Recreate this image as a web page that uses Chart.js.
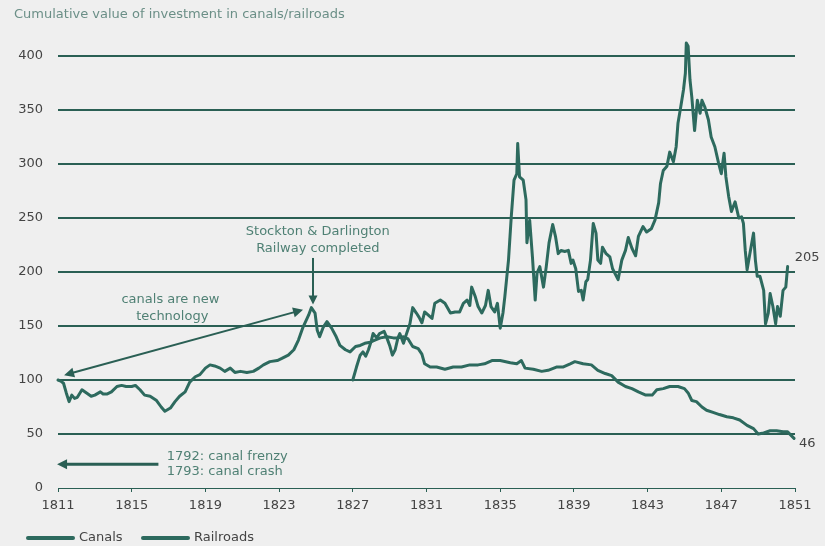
<!DOCTYPE html>
<html>
<head>
<meta charset="utf-8">
<script src="https://cdn.jsdelivr.net/npm/chart.js@4/dist/chart.umd.min.js"></script>
<style>
  html,body{margin:0;padding:0;background:#efefef;}
  canvas{display:block;}
</style>
</head>
<body>
<canvas id="chart" width="825" height="546"></canvas>
<script>
const TEAL = '#2d6a5e', GRID = '#2a5f54', NOTE = '#4f8074', TICK = '#444';
const FONT = '"DejaVu Sans", sans-serif';

const canalYears = [1811.0,1811.15,1811.3,1811.45,1811.6,1811.75,1811.9,1812.05,1812.3,1812.55,1812.8,1813.0,1813.3,1813.45,1813.65,1813.9,
  1814.2,1814.45,1814.7,1815.0,1815.2,1815.45,1815.7,1816.0,1816.35,1816.6,1816.8,1817.1,1817.35,1817.6,1817.9,1818.15,1818.45,1818.7,
  1819.0,1819.25,1819.5,1819.8,1820.05,1820.35,1820.6,1820.9,1821.25,1821.6,1821.9,1822.15,1822.5,1822.9,1823.15,1823.5,1823.8,1824.05,
  1824.3,1824.6,1824.75,1824.95,1825.07,1825.2,1825.4,1825.6,1825.85,1826.1,1826.3,1826.6,1826.85,1827.15,1827.4,1827.65,1827.95,1828.2,
  1828.5,1828.85,1829.2,1829.45,1829.75,1830.0,1830.25,1830.55,1830.75,1830.9,1831.2,1831.55,1832.0,1832.45,1832.9,1833.35,1833.8,1834.15,
  1834.55,1835.0,1835.55,1835.9,1836.15,1836.35,1836.8,1837.25,1837.6,1838.05,1838.4,1838.8,1839.05,1839.5,1839.95,1840.3,1840.7,1841.05,
  1841.4,1841.8,1842.15,1842.5,1842.9,1843.25,1843.5,1843.85,1844.2,1844.65,1845.0,1845.2,1845.4,1845.65,1845.95,1846.2,1846.55,1846.9,
  1847.3,1847.65,1848.0,1848.4,1848.75,1849.0,1849.3,1849.65,1850.0,1850.35,1850.6,1850.95];
const canalValues = [100,99,97,88,80,86,83,84,91,88,85,86,89,87,87,89,
  94,95,94,94,95,91,86,85,81,75,71,74,80,85,89,98,103,105,
  111,114,113,111,108,111,107,108,107,108,111,114,117,118,120,123,128,137,
  149,160,167,162,146,140,149,154,148,140,132,128,126,131,132,134,135,137,
  139,140,139,139,140,138,131,129,124,115,112,112,110,112,112,114,114,115,
  118,118,116,115,118,111,110,108,109,112,112,115,117,115,114,109,106,104,
  98,94,92,89,86,86,91,92,94,94,92,88,81,80,75,72,70,68,
  66,65,63,58,55,50,51,53,53,52,52,46];

const railYears = [1827.0,1827.2,1827.4,1827.55,1827.7,1827.85,1828.0,1828.1,1828.3,1828.45,1828.7,1828.85,1829.0,1829.15,1829.3,1829.45,
  1829.55,1829.75,1829.9,1830.1,1830.25,1830.45,1830.6,1830.75,1830.9,1831.1,1831.3,1831.45,1831.75,1832.0,1832.3,1832.55,1832.8,1833.0,
  1833.2,1833.35,1833.45,1833.65,1833.8,1834.0,1834.2,1834.35,1834.5,1834.7,1834.85,1835.0,1835.15,1835.25,1835.45,1835.6,1835.75,1835.9,
  1835.95,1836.05,1836.25,1836.4,1836.45,1836.6,1836.75,1836.9,1837.0,1837.15,1837.35,1837.5,1837.65,1837.85,1838.0,1838.15,1838.3,1838.5,
  1838.7,1838.85,1838.95,1839.1,1839.25,1839.4,1839.5,1839.65,1839.75,1839.9,1840.05,1840.2,1840.3,1840.45,1840.55,1840.75,1840.95,1841.1,
  1841.4,1841.6,1841.8,1841.95,1842.15,1842.35,1842.5,1842.75,1842.95,1843.2,1843.4,1843.6,1843.7,1843.85,1844.05,1844.2,1844.4,1844.55,
  1844.65,1844.8,1844.95,1845.05,1845.1,1845.2,1845.3,1845.4,1845.55,1845.7,1845.85,1845.95,1846.1,1846.3,1846.45,1846.65,1846.85,1847.0,
  1847.15,1847.25,1847.4,1847.55,1847.75,1847.95,1848.1,1848.2,1848.3,1848.4,1848.55,1848.75,1848.85,1848.95,1849.1,1849.3,1849.4,1849.55,
  1849.65,1849.8,1849.95,1850.05,1850.2,1850.35,1850.5,1850.6];
const railValues = [100,112,123,126,122,128,136,143,139,143,145,139,132,123,128,139,
  143,134,142,152,167,162,158,153,163,160,157,171,174,171,162,163,163,171,
  174,169,186,177,168,162,169,183,168,163,171,148,162,177,211,251,285,291,
  319,288,285,267,227,248,214,174,199,205,186,205,227,244,233,217,220,219,
  220,208,211,203,182,183,174,191,193,211,245,236,211,208,223,217,214,203,
  193,211,220,232,222,215,233,242,237,240,248,264,282,294,298,311,302,316,
  338,353,369,384,412,409,378,362,331,359,347,359,353,341,325,316,301,291,
  310,288,270,256,265,250,251,245,220,202,217,236,211,196,196,183,152,162,
  180,168,152,168,159,183,186,205];

const seriesNames = ['Canals', 'Railroads'];
const xTicks = [1811, 1851, 4];   // min, max, step
const yTicks = [0, 400, 50];

const pts = (xs, ys) => xs.map((x, i) => ({ x, y: ys[i] }));

function arrow(ctx, x1, y1, x2, y2, w, head, both){
  ctx.save();
  ctx.strokeStyle = GRID; ctx.fillStyle = GRID; ctx.lineWidth = w;
  const a = Math.atan2(y2 - y1, x2 - x1);
  const tip = (x, y, ang) => {
    ctx.beginPath();
    ctx.moveTo(x, y);
    ctx.lineTo(x - head * Math.cos(ang) + head * 0.5 * Math.sin(ang), y - head * Math.sin(ang) - head * 0.5 * Math.cos(ang));
    ctx.lineTo(x - head * Math.cos(ang) - head * 0.5 * Math.sin(ang), y - head * Math.sin(ang) + head * 0.5 * Math.cos(ang));
    ctx.closePath(); ctx.fill();
  };
  const sx = both ? x1 + head * 0.8 * Math.cos(a) : x1, sy = both ? y1 + head * 0.8 * Math.sin(a) : y1;
  ctx.beginPath();
  ctx.moveTo(sx, sy);
  ctx.lineTo(x2 - head * 0.8 * Math.cos(a), y2 - head * 0.8 * Math.sin(a));
  ctx.stroke();
  tip(x2, y2, a);
  if (both) tip(x1, y1, a + Math.PI);
  ctx.restore();
}

// notes are placed in data units (year, value)
const notes = [
  { text: 'Stockton & Darlington', x: 1825.1, y: 237, align: 'center' },
  { text: 'Railway completed', x: 1825.1, y: 222, align: 'center' },
  { text: 'canals are new', x: 1817.1, y: 174, align: 'center' },
  { text: 'technology', x: 1817.2, y: 159, align: 'center' },
  { text: '1792: canal frenzy', x: 1816.9, y: 29.5, align: 'left' },
  { text: '1793: canal crash', x: 1816.9, y: 15.5, align: 'left' },
];

const decor = {
  id: 'decor',
  beforeDraw(chart){
    const c = chart.ctx;
    c.save(); c.fillStyle = '#efefef'; c.fillRect(0, 0, chart.width, chart.height); c.restore();
  },
  afterDatasetsDraw(chart){
    const c = chart.ctx, xs = chart.scales.x, ys = chart.scales.y;
    const px = v => xs.getPixelForValue(v), py = v => ys.getPixelForValue(v);
    c.save();
    c.textBaseline = 'middle';
    c.font = '13px ' + FONT;
    c.fillStyle = '#6b8f87'; c.textAlign = 'left';
    c.fillText('Cumulative value of investment in canals/railroads', 14, 15);

    c.fillStyle = NOTE;
    for (const n of notes){ c.textAlign = n.align; c.fillText(n.text, px(n.x), py(n.y)); }

    arrow(c, px(1824.84), py(213), px(1824.84), py(170), 2, 9, false);
    arrow(c, px(1811.33), py(104.5), px(1824.3), py(165), 2, 10, true);
    arrow(c, px(1816.45), py(22), px(1810.95), py(22), 3, 10, false);

    // end-of-series values
    c.fillStyle = TICK; c.textAlign = 'left';
    c.fillText(String(railValues[railValues.length - 1]), px(railYears[railYears.length - 1]) + 7, py(213));
    c.fillText(String(canalValues[canalValues.length - 1]), px(canalYears[canalYears.length - 1]) + 5, py(41.5));

    // legend
    const legX = [28, 143];
    seriesNames.forEach((name, i) => {
      c.strokeStyle = TEAL; c.lineWidth = 4; c.lineCap = 'round';
      c.beginPath(); c.moveTo(legX[i], 538); c.lineTo(legX[i] + 45, 538); c.stroke();
      c.fillStyle = TICK; c.fillText(name, legX[i] + 51, 538);
    });
    c.restore();
  }
};

new Chart(document.getElementById('chart'), {
  type: 'line',
  data: {
    datasets: [
      { label: seriesNames[0], data: pts(canalYears, canalValues) },
      { label: seriesNames[1], data: pts(railYears, railValues) },
    ].map(d => ({ ...d, borderColor: TEAL, backgroundColor: TEAL, borderWidth: 3, pointRadius: 0,
                  tension: 0, borderJoinStyle: 'round', borderCapStyle: 'round', clip: false }))
  },
  options: {
    responsive: false, animation: false, devicePixelRatio: 1,
    layout: { padding: { top: 56, right: 30, bottom: 0, left: 0 } },
    plugins: { legend: { display: false }, tooltip: { enabled: false } },
    scales: {
      x: {
        type: 'linear', min: xTicks[0], max: xTicks[1],
        ticks: { stepSize: xTicks[2], callback: v => String(v), color: TICK, font: { family: FONT, size: 13 },
                 padding: 6, maxRotation: 0, autoSkip: false },
        grid: { drawOnChartArea: false, drawTicks: true, tickLength: 4, color: GRID, lineWidth: 1 },
        border: { display: false },
        afterFit: s => { s.height = 58; }
      },
      y: {
        min: yTicks[0], max: yTicks[1],
        ticks: { stepSize: yTicks[2], color: TICK, font: { family: FONT, size: 13 }, padding: 15 },
        grid: { color: GRID, lineWidth: c => c.tick && c.tick.value === 0 ? 1 : 2, drawTicks: false },
        border: { display: false },
        afterFit: s => { s.width = 58; }
      }
    }
  },
  plugins: [decor]
});
</script>
</body>
</html>
